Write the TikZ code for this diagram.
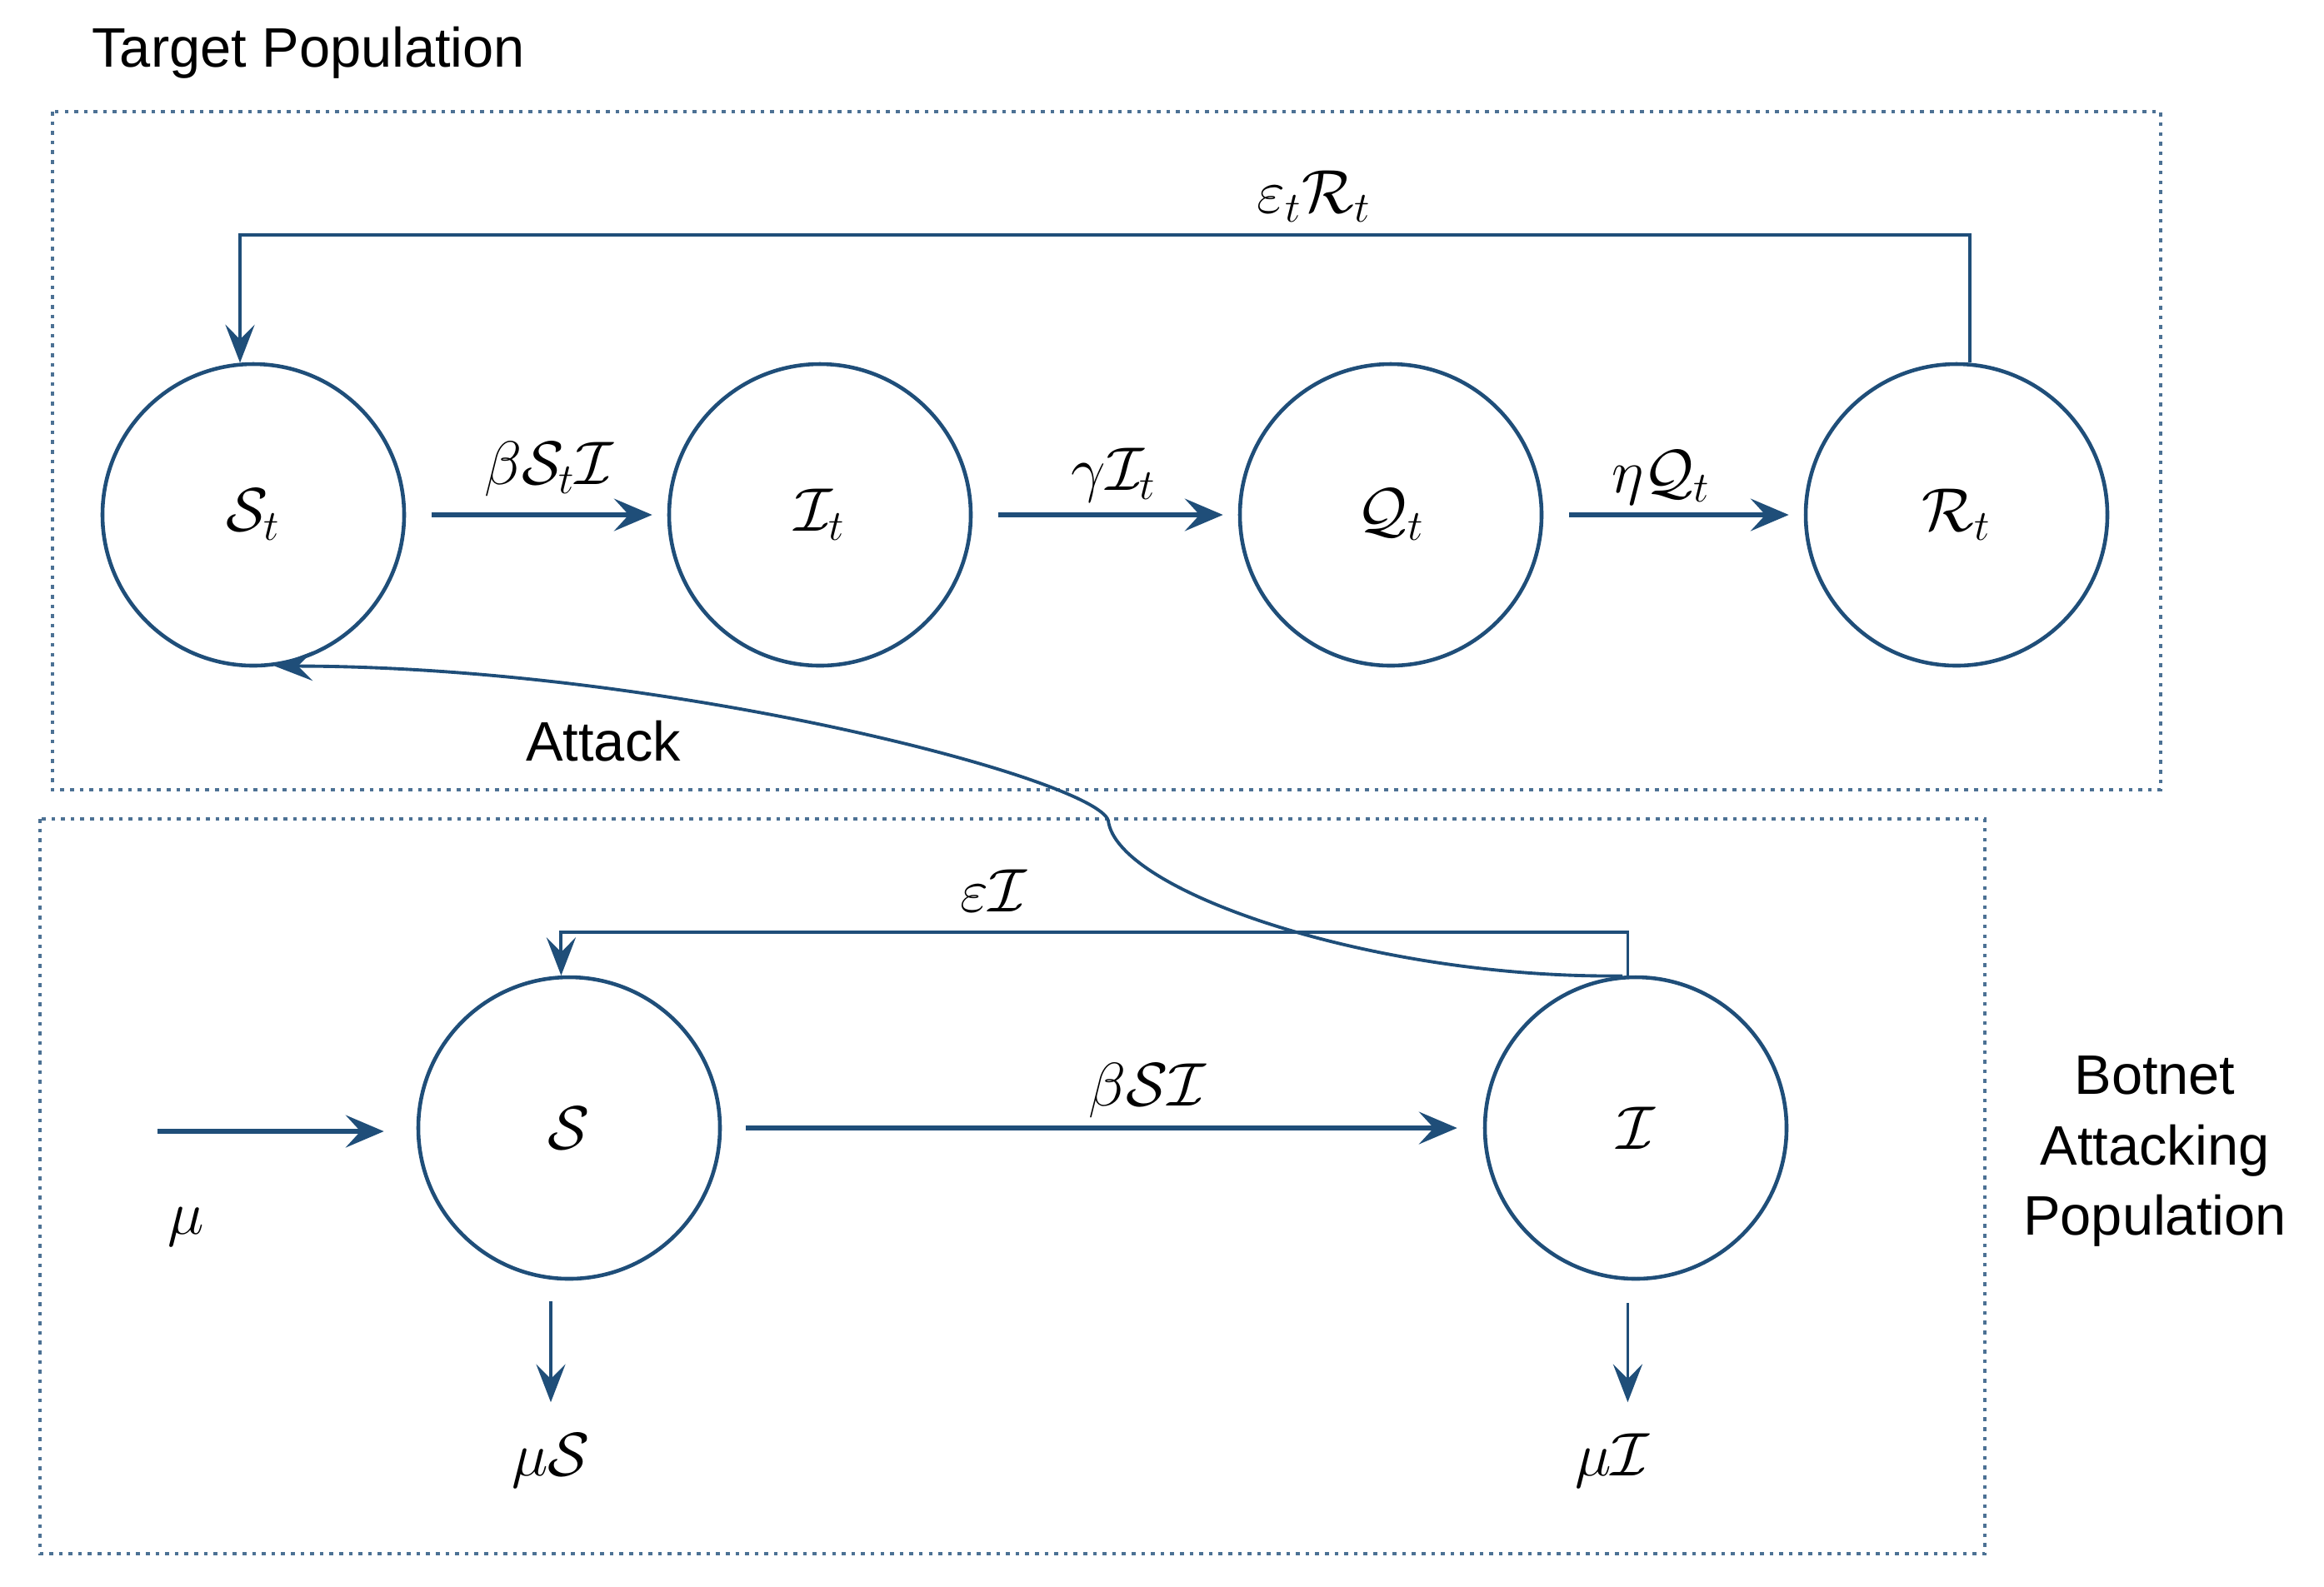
\RequirePackage{fix-cm}
\documentclass[tikz,border=0pt]{standalone}
\usepackage{fontspec}
\setmainfont{Liberation Sans}
\usetikzlibrary{positioning, arrows.meta, calc}
\definecolor{netblue}{RGB}{31,78,121}
\tikzset{
        my-pop/.style={
            circle, draw=netblue, line width=1.3pt, minimum size=3.62cm, inner sep=0pt, font=\fontsize{21}{25}\selectfont
        },
        my-flow/.style={
            draw=netblue, line width=1.8pt, -{Stealth[length=13pt,width=11pt,inset=5pt]}
        },
        my-back/.style={
            draw=netblue, line width=1.1pt, -{Stealth[length=13pt,width=10pt,inset=5pt]}
        },
        my-zone/.style={draw=netblue!80, dotted, line width=1.3pt},
        my-rate/.style={font=\fontsize{21}{25}\selectfont},
        my-text/.style={font=\fontsize{19}{24}\selectfont, align=center},
}

\begin{document}
\begin{tikzpicture}
        \useasboundingbox (0,0) rectangle (27.89,-19.04);

        %DRAW ZONES
        \draw [my-zone] (0.63,-1.34) rectangle (25.93,-9.48);
        \draw [my-zone] (0.48,-9.83) rectangle (23.82,-18.65);

        %DRAW NODES (target population first, everything else relative to S_t)
        \node [my-pop]   (St)   at (3.04,-6.18)              {$\mathcal{S}_t$};
        \node [my-pop]   (It)   at ($(St)+(6.80,0)$)         {$\mathcal{I}_t$};
        \node [my-pop]   (Qt)   at ($(St)+(13.65,0)$)        {$\mathcal{Q}_t$};
        \node [my-pop]   (Rt)   at ($(St)+(20.44,0)$)        {$\mathcal{R}_t$};
        \node [my-pop]   (S)    at ($(St)+(3.79,-7.36)$)     {$\mathcal{S}$};
        \node [my-pop]   (I)    at ($(S)+(12.80,0)$)         {$\mathcal{I}$};

        %LABELS
        \node [my-text, anchor=west] (TP)  at (0.98,-0.63)            {Target Population};
        \node [my-text]  (BAP)  at (25.86,-13.82)            {Botnet\\Attacking\\Population};
        \node [my-text]  (ATT)  at (7.24,-8.90)              {Attack};
        \node [my-rate]  (bSI)  at ($(St)!.5!(It)+(0.15,0.55)$) {$\beta\mathcal{S}_t\mathcal{I}$};
        \node [my-rate]  (gI)   at ($(It)!.5!(Qt)+(0.10,0.48)$) {$\gamma\mathcal{I}_t$};
        \node [my-rate]  (eQ)   at ($(Qt)!.5!(Rt)+(-0.15,0.45)$) {$\eta\mathcal{Q}_t$};
        \node [my-rate]  (eR)   at (15.77,-2.36)             {$\varepsilon_t\mathcal{R}_t$};
        \node [my-rate]  (eI)   at (11.92,-10.69)            {$\varepsilon\mathcal{I}$};
        \node [my-rate]  (bS)   at ($(S)!.5!(I)+(0.54,0.45)$) {$\beta\mathcal{S}\mathcal{I}$};
        \node [my-rate]  (mu)   at (2.23,-14.73)             {$\mu$};
        \node [my-rate]  (muS)  at (6.61,-17.53)             {$\mu\mathcal{S}$};
        \node [my-rate]  (muI)  at (19.35,-17.53)            {$\mu\mathcal{I}$};

        \coordinate (in)    at (1.89,-13.58);
        \coordinate (topR)  at ($(St)+(0,3.36)$);
        \coordinate (topI)  at ($(S)+(0,2.35)$);

        % CONNECT TARGET POPULATION
        \draw [my-flow, shorten <=0.31cm, shorten >=0.18cm] (St) -- (It);
        \draw [my-flow, shorten <=0.31cm, shorten >=0.18cm] (It) -- (Qt);
        \draw [my-flow, shorten <=0.31cm, shorten >=0.18cm] (Qt) -- (Rt);
        \draw [my-back] (Rt.85) -- (Rt.85 |- topR) -- (St.95 |- topR) -- (St.95);

        % CONNECT BOTNET
        \draw [my-flow, shorten >=0.39cm] (in) -- (S.west |- in);
        \draw [my-flow, shorten <=0.29cm, shorten >=0.31cm] (S) -- (I);
        \draw [my-back] (I.93) -- (I.93 |- topI) -- (S.93 |- topI) -- (S.93);
        \draw [my-back, shorten <=0.25cm, shorten >=0.25cm] (S.south -| muS) -- (muS.north);
        \draw [my-back, shorten <=0.27cm, shorten >=0.25cm] (I.-93) -- (I.-93 |- muI.north);

        % ATTACK
        \draw [my-back] (I.95) .. controls (16.5,-11.75) and (13.40,-10.70) .. (13.30,-9.85)
              .. controls (13.15,-9.35) and (8.0,-8.0) .. (St.-82);

    \end{tikzpicture}
\end{document}
